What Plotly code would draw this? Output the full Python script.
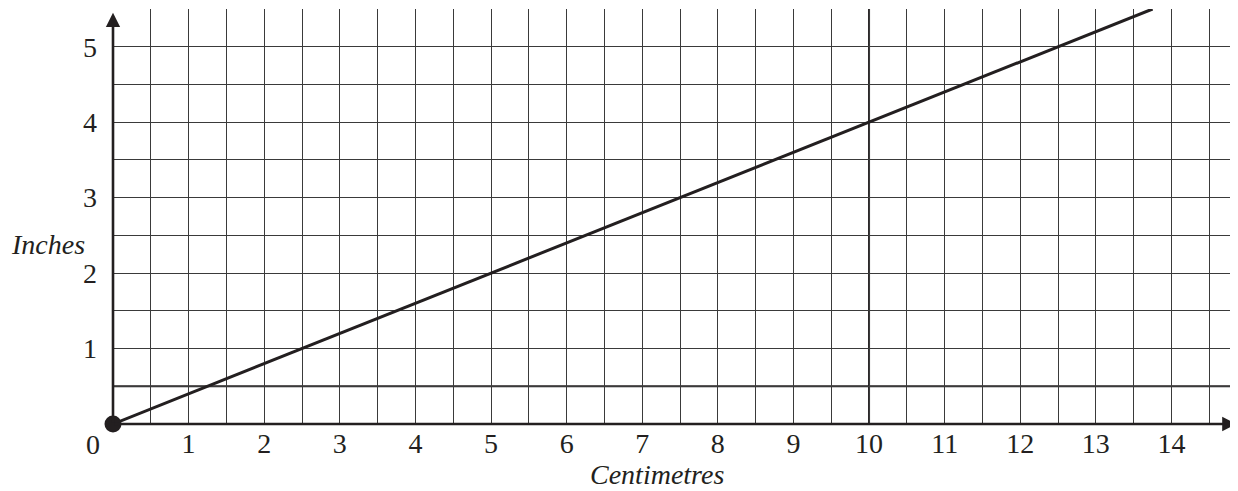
import plotly.graph_objects as go

# Data
centimetres = [0, 13.75]
inches = [0, 5.5]
x_tick_vals = list(range(1, 15))
y_tick_vals = [1, 2, 3, 4, 5]
x_label = "Centimetres"
y_label = "Inches"

X_MAX = 14.88
Y_MAX = 5.5
FONT = "Liberation Serif, Times New Roman, serif"
INK = "#231f20"
GRID = "#3a3a3a"

fig = go.Figure()
fig.add_trace(go.Scatter(
    x=centimetres, y=inches, mode="lines",
    line=dict(color=INK, width=3), cliponaxis=False, showlegend=False,
    hoverinfo="skip"))
fig.add_trace(go.Scatter(
    x=[centimetres[0]], y=[inches[0]], mode="markers",
    marker=dict(color=INK, size=17), cliponaxis=False, showlegend=False))

shapes = [
    dict(type="line", xref="x", yref="y", x0=0, x1=X_MAX, y0=0.5, y1=0.5,
         line=dict(color=INK, width=2.2), layer="below"),
    dict(type="line", xref="x", yref="y", x0=10, x1=10, y0=0, y1=Y_MAX,
         line=dict(color=INK, width=2), layer="below"),
]

annotations = [
    dict(x=X_MAX - 0.02, y=0, ax=0, ay=0, xref="x", yref="y", axref="x", ayref="y",
         text="", showarrow=True, arrowhead=2, arrowsize=1.1, arrowwidth=2.6,
         arrowcolor=INK),
    dict(x=0, y=5.45, ax=0, ay=0, xref="x", yref="y", axref="x", ayref="y",
         text="", showarrow=True, arrowhead=2, arrowsize=1.1, arrowwidth=2.6,
         arrowcolor=INK),
    dict(x=-0.0178, y=-0.0506, xref="paper", yref="paper", text="0", showarrow=False,
         xanchor="center", yanchor="middle",
         font=dict(family=FONT, size=28, color=INK)),
    dict(x=0.4836, y=-0.121, xref="paper", yref="paper", text="<i>%s</i>" % x_label,
         xanchor="center", yanchor="middle",
         showarrow=False, font=dict(family=FONT, size=28, color=INK)),
    dict(x=-0.0578, y=0.4337, xref="paper", yref="paper", text="<i>%s</i>" % y_label,
         xanchor="center", yanchor="middle",
         showarrow=False, font=dict(family=FONT, size=28, color=INK)),
]

fig.update_layout(
    width=1230, height=483,
    margin=dict(l=105, r=0, t=1, b=67, autoexpand=False),
    paper_bgcolor="white", plot_bgcolor="white",
    shapes=shapes, annotations=annotations,
    xaxis=dict(range=[0, X_MAX], tickvals=x_tick_vals, ticktext=[str(v) for v in x_tick_vals],
               showgrid=True, gridcolor=GRID, gridwidth=1,
               minor=dict(dtick=0.5, tick0=0, showgrid=True, gridcolor=GRID, gridwidth=1),
               zeroline=False, showline=False, ticks="", ticklabelstandoff=0,
               tickfont=dict(family=FONT, size=28, color=INK), fixedrange=True),
    yaxis=dict(range=[0, Y_MAX], tickvals=y_tick_vals, ticktext=[str(v) for v in y_tick_vals],
               showgrid=True, gridcolor=GRID, gridwidth=1,
               minor=dict(dtick=0.5, tick0=0, showgrid=True, gridcolor=GRID, gridwidth=1),
               zeroline=False, showline=False, ticks="", ticklabelstandoff=15,
               tickfont=dict(family=FONT, size=28, color=INK), fixedrange=True),
)

fig.write_html("out.html")
